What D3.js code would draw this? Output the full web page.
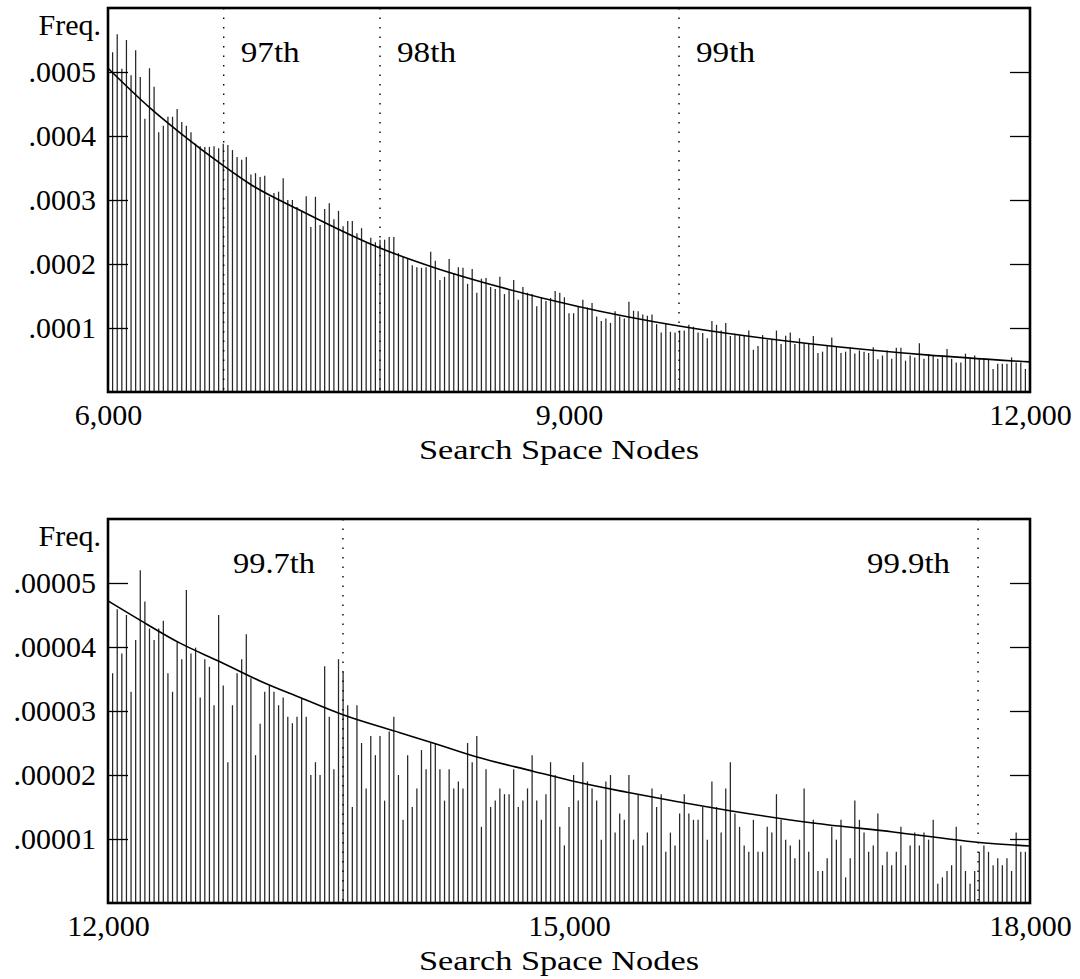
<!DOCTYPE html>
<html><head><meta charset="utf-8">
<script src="https://cdn.jsdelivr.net/npm/d3@7"></script>
<style>
html,body{margin:0;padding:0;background:#fff;}
svg text{font-family:"Liberation Serif","Times New Roman",serif;fill:#000;}
</style></head><body>
<svg id="chart" width="1080" height="979"></svg>
<script>
// ---------------- DATA ----------------
const binWidth = 30;
const topRange = [6000, 12000];
const bottomRange = [12000, 18000];
const topUnit = 1e-4;     // top bar values below are in units of 0.0001
const bottomUnit = 1e-5;  // bottom bar values below are in units of 0.00001

const topBars = [
  5.31, 5.59, 5.05, 5.50, 4.95, 5.34, 4.92, 4.27, 5.06, 4.77,
  4.06, 4.16, 4.30, 4.30, 4.42, 4.22, 4.16, 4.06, 3.88, 3.84,
  3.83, 3.83, 3.84, 3.81, 3.88, 3.86, 3.78, 3.67, 3.63, 3.67,
  3.40, 3.42, 3.36, 3.38, 3.05, 3.11, 3.13, 3.34, 3.00, 3.00,
  2.89, 2.84, 3.06, 2.58, 3.05, 2.61, 2.86, 2.95, 2.70, 2.83,
  2.59, 2.67, 2.67, 2.48, 2.56, 2.33, 2.41, 2.34, 2.38, 2.38,
  2.42, 2.42, 2.17, 2.11, 2.09, 1.98, 1.95, 1.94, 1.95, 2.19,
  2.05, 1.75, 1.80, 2.08, 1.86, 1.95, 1.94, 1.69, 1.92, 1.55,
  1.77, 1.78, 1.64, 1.61, 1.80, 1.53, 1.59, 1.75, 1.44, 1.64,
  1.55, 1.53, 1.34, 1.48, 1.42, 1.47, 1.58, 1.55, 1.48, 1.23,
  1.23, 1.33, 1.44, 1.32, 1.39, 1.18, 1.11, 1.15, 1.08, 1.26,
  1.18, 1.15, 1.41, 1.27, 1.26, 1.21, 1.19, 1.21, 1.06, 0.93,
  1.07, 0.94, 0.93, 0.96, 0.96, 1.05, 1.02, 0.93, 0.92, 0.84,
  1.11, 1.05, 0.96, 1.08, 0.875, 0.91, 0.89, 0.89, 0.96, 0.66,
  0.72, 0.89, 0.82, 0.82, 0.96, 0.75, 0.88, 0.93, 0.75, 0.84,
  0.76, 0.76, 0.875, 0.61, 0.63, 0.73, 0.85, 0.71, 0.61, 0.63,
  0.70, 0.60, 0.65, 0.63, 0.61, 0.70, 0.51, 0.57, 0.65, 0.52,
  0.69, 0.69, 0.49, 0.57, 0.54, 0.76, 0.52, 0.59, 0.58, 0.52,
  0.55, 0.67, 0.52, 0.46, 0.46, 0.60, 0.52, 0.57, 0.53, 0.53,
  0.52, 0.36, 0.44, 0.44, 0.44, 0.54, 0.46, 0.46, 0.36
];

const bottomBars = [
  3.59, 4.59, 3.90, 4.50, 3.30, 4.11, 5.20, 4.71, 4.29, 4.11,
  4.29, 4.41, 3.59, 3.30, 4.08, 3.81, 4.89, 3.90, 3.99, 3.21,
  3.81, 3.69, 3.09, 4.50, 3.40, 2.20, 3.09, 3.59, 3.81, 4.20,
  3.51, 2.31, 2.80, 3.30, 3.40, 3.30, 3.09, 3.21, 2.91, 2.81,
  2.91, 3.21, 2.91, 2.00, 2.20, 2.00, 3.70, 2.91, 2.09, 3.81,
  3.61, 3.09, 1.50, 3.09, 2.50, 1.79, 2.61, 2.31, 2.61, 1.60,
  2.68, 2.91, 2.00, 1.30, 2.31, 1.50, 1.79, 2.39, 2.09, 2.50,
  2.50, 2.09, 1.60, 2.09, 1.79, 1.90, 1.79, 2.50, 2.20, 2.61,
  1.19, 2.09, 1.50, 1.60, 1.79, 1.70, 1.70, 2.09, 1.50, 1.60,
  1.79, 2.31, 1.60, 1.30, 1.70, 2.20, 2.00, 1.19, 0.90, 1.50,
  2.00, 1.60, 2.20, 1.90, 1.79, 1.60, 0.99, 1.90, 2.00, 1.10,
  1.40, 1.30, 2.00, 0.99, 1.70, 0.90, 1.10, 1.79, 1.50, 1.70,
  0.80, 1.10, 0.90, 1.40, 1.70, 1.40, 1.30, 1.30, 1.50, 0.99,
  1.90, 1.50, 1.10, 1.79, 2.20, 1.40, 1.19, 0.90, 0.80, 1.30,
  0.80, 0.80, 1.19, 1.10, 1.70, 1.30, 0.99, 0.90, 0.70, 0.99,
  1.79, 0.80, 1.30, 0.50, 0.50, 0.70, 1.19, 0.99, 1.30, 0.40,
  0.70, 1.60, 1.30, 1.10, 0.80, 0.90, 1.40, 0.59, 0.80, 0.59,
  0.80, 1.19, 0.59, 0.90, 1.10, 0.90, 1.10, 0.99, 1.30, 0.30,
  0.40, 0.50, 0.59, 1.19, 0.90, 0.50, 0.30, 0.50, 0.80, 0.90,
  0.80, 0.59, 0.70, 0.59, 0.70, 0.50, 1.10, 0.80, 0.80
];

// fitted curves (nodes, value in the panel unit)
const topCurveNodes  = [6000, 6273, 6469, 6755, 6924, 7249, 7770, 8115, 8551, 9052, 9716, 10582, 11324, 12000];
const topCurveValues = [5.06, 4.44, 4.05, 3.53, 3.25, 2.84, 2.25, 1.95, 1.64, 1.34, 1.03, 0.75, 0.58, 0.47];
const bottomCurveNodes  = [12000, 12208, 12469, 12729, 12989, 13250, 13529, 13900, 14115, 14401, 14766, 15052, 15378, 16028, 16588, 17109, 17655, 18000];
const bottomCurveValues = [4.72, 4.42, 4.06, 3.77, 3.47, 3.21, 2.94, 2.66, 2.50, 2.28, 2.06, 1.89, 1.73, 1.45, 1.25, 1.11, 0.95, 0.89];

const topYTicks = [0.0001, 0.0002, 0.0003, 0.0004, 0.0005];
const topYTickLabels = [".0001", ".0002", ".0003", ".0004", ".0005"];
const bottomYTicks = [0.00001, 0.00002, 0.00003, 0.00004, 0.00005];
const bottomYTickLabels = [".00001", ".00002", ".00003", ".00004", ".00005"];
const topYMax = 0.0006;
const bottomYMax = 0.00006;

const topXTicks = [6000, 9000, 12000];
const bottomXTicks = [12000, 15000, 18000];

const topPctValues = [6753, 7770, 9716];
const topPctLabels = ["97th", "98th", "99th"];
const bottomPctValues = [13529, 17662];
const bottomPctLabels = ["99.7th", "99.9th"];

const yLabelText = "Freq.";
const xTitleText = "Search Space Nodes";

// ---------------- DRAW ----------------
const svg = d3.select("#chart");
const left = 108, right = 1030;
const FS = 30;

function panel(cfg) {
  const g = svg.append("g");
  const x = d3.scaleLinear().domain(cfg.range).range([left, right]);
  const y = d3.scaleLinear().domain([0, cfg.yMax]).range([cfg.y1, cfg.y0]);

  const bars = cfg.bars.map((v, i) => ({ n: cfg.range[0] + binWidth * (i + 1), v: v * cfg.unit }));

  // bars
  g.append("g").selectAll("line").data(bars).join("line")
    .attr("x1", d => x(d.n)).attr("x2", d => x(d.n))
    .attr("y1", y(0)).attr("y2", d => y(d.v))
    .attr("stroke", "#262626").attr("stroke-width", 1.25);

  // percentile dotted lines
  g.append("g").selectAll("line").data(cfg.pctValues).join("line")
    .attr("x1", d => x(d)).attr("x2", d => x(d))
    .attr("y1", cfg.y0).attr("y2", cfg.y1)
    .attr("stroke", "#000").attr("stroke-width", 1.4)
    .attr("stroke-dasharray", "1.6,7.9");

  g.append("g").selectAll("text").data(cfg.pctValues).join("text")
    .attr("x", d => x(d) + cfg.pctOffset)
    .attr("y", cfg.y0 + 54)
    .attr("text-anchor", cfg.pctAnchor)
    .attr("font-size", FS)
    .attr("textLength", (d, i) => cfg.pctWidths[i])
    .attr("lengthAdjust", "spacingAndGlyphs")
    .text((d, i) => cfg.pctLabels[i]);

  // curve
  const curvePts = cfg.curveNodes.map((n, i) => [n, cfg.curveValues[i] * cfg.unit]);
  g.append("path").datum(curvePts)
    .attr("d", d3.line().x(d => x(d[0])).y(d => y(d[1])).curve(d3.curveMonotoneX))
    .attr("fill", "none").attr("stroke", "#000").attr("stroke-width", 1.6);

  // left axis (inner ticks)
  const ya = g.append("g").attr("transform", `translate(${left},0)`)
    .call(d3.axisLeft(y).tickValues(cfg.yTicks).tickSize(-20).tickPadding(12)
      .tickFormat((d, i) => cfg.yTickLabels[i]));
  ya.select(".domain").remove();
  ya.selectAll(".tick line").attr("stroke", "#000").attr("stroke-width", 1.3);
  ya.selectAll(".tick text").attr("font-size", FS).attr("font-family", "Liberation Serif").attr("fill", "#000");

  // right axis (inner ticks, no labels)
  const yr = g.append("g").attr("transform", `translate(${right},0)`)
    .call(d3.axisRight(y).tickValues(cfg.yTicks).tickSize(-20).tickFormat(""));
  yr.select(".domain").remove();
  yr.selectAll(".tick line").attr("stroke", "#000").attr("stroke-width", 1.3);

  // bottom axis labels
  const xa = g.append("g").attr("transform", `translate(0,${cfg.y1})`)
    .call(d3.axisBottom(x).tickValues(cfg.xTicks).tickSize(0).tickPadding(12).tickFormat(d3.format(",")));
  xa.select(".domain").remove();
  xa.selectAll(".tick text").attr("font-size", FS).attr("font-family", "Liberation Serif").attr("fill", "#000");

  // Freq. label
  g.append("text").attr("x", 101).attr("y", cfg.y0 + 27)
    .attr("text-anchor", "end").attr("font-size", FS).text(yLabelText);

  // x title
  g.append("text").attr("x", 559).attr("y", cfg.y1 + 67)
    .attr("text-anchor", "middle").attr("font-size", 28)
    .attr("textLength", 280).attr("lengthAdjust", "spacingAndGlyphs")
    .text(xTitleText);

  // frame
  g.append("rect").attr("x", left).attr("y", cfg.y0)
    .attr("width", right - left).attr("height", cfg.y1 - cfg.y0)
    .attr("fill", "none").attr("stroke", "#000").attr("stroke-width", 2.6);
}

panel({
  range: topRange, unit: topUnit, bars: topBars, yMax: topYMax, y0: 8, y1: 392,
  yTicks: topYTicks, yTickLabels: topYTickLabels, xTicks: topXTicks,
  curveNodes: topCurveNodes, curveValues: topCurveValues,
  pctValues: topPctValues, pctLabels: topPctLabels, pctOffset: 17, pctAnchor: "start",
  pctWidths: [59, 59, 59]
});
panel({
  range: bottomRange, unit: bottomUnit, bars: bottomBars, yMax: bottomYMax, y0: 519, y1: 903,
  yTicks: bottomYTicks, yTickLabels: bottomYTickLabels, xTicks: bottomXTicks,
  curveNodes: bottomCurveNodes, curveValues: bottomCurveValues,
  pctValues: bottomPctValues, pctLabels: bottomPctLabels, pctOffset: -28, pctAnchor: "end",
  pctWidths: [82, 83]
});
</script>
</body></html>
